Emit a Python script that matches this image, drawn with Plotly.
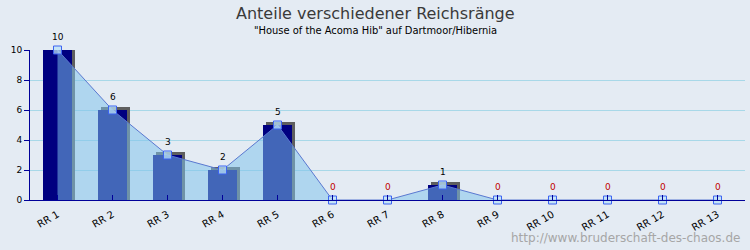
import plotly.graph_objects as go

categories = ["RR 1", "RR 2", "RR 3", "RR 4", "RR 5", "RR 6", "RR 7",
              "RR 8", "RR 9", "RR 10", "RR 11", "RR 12", "RR 13"]
values = [10, 6, 3, 2, 5, 0, 0, 1, 0, 0, 0, 0, 0]
y_ticks = [0, 2, 4, 6, 8, 10]

title = "Anteile verschiedener Reichsränge"
subtitle = "\"House of the Acoma Hib\" auf Dartmoor/Hibernia"
watermark = "http://www.bruderschaft-des-chaos.de"

BG = "#e4ebf3"
xs = list(range(len(categories)))

fig = go.Figure()

# shadow bars (3px right, 3px up)
shadow = [v + 0.2 if v > 0 else 0 for v in values]
fig.add_trace(go.Bar(x=xs, y=shadow, width=0.53, offset=-0.265 + 0.055,
                     marker=dict(color="#5e5e5e", line=dict(width=0)),
                     hoverinfo="skip", showlegend=False))
# main bars
fig.add_trace(go.Bar(x=xs, y=values, width=0.53, offset=-0.265,
                     marker=dict(color="#000080", line=dict(width=0)),
                     showlegend=False))
# area line
fig.add_trace(go.Scatter(x=xs, y=values, mode="lines+markers", fill="tozeroy",
                         fillcolor="rgba(127,196,236,0.52)", cliponaxis=False,
                         line=dict(color="#5a78d0", width=1),
                         marker=dict(symbol="square", size=8,
                                     color="rgba(185,225,248,0.75)",
                                     line=dict(color="#3d63f0", width=1)),
                         showlegend=False))

for x, v in zip(xs, values):
    fig.add_annotation(x=x, y=v, text=str(v), showarrow=False, yshift=13,
                       font=dict(family="DejaVu Sans", size=9,
                                 color="#000000" if v > 0 else "#c00000"))

px_x = lambda p: (p - 30) / 715
px_y = lambda p: (200 - p) / 150

fig.add_annotation(text=title, xref="paper", yref="paper", x=px_x(375), y=px_y(13),
                   xanchor="center", yanchor="middle", showarrow=False,
                   font=dict(family="DejaVu Sans", size=16, color="#3a3a3a"))
fig.add_annotation(text=subtitle, xref="paper", yref="paper", x=px_x(375), y=px_y(30),
                   xanchor="center", yanchor="middle", showarrow=False,
                   font=dict(family="DejaVu Sans Condensed", size=11, color="#000000"))
fig.add_annotation(text=watermark, xref="paper", yref="paper", x=px_x(742), y=px_y(238),
                   xanchor="right", yanchor="middle", showarrow=False,
                   font=dict(family="DejaVu Sans", size=12, color="#a6a6a6"))

fig.update_layout(
    width=750, height=250,
    margin=dict(l=30, r=5, t=50, b=50),
    paper_bgcolor=BG, plot_bgcolor=BG,
    barmode="overlay", bargap=0,
    xaxis=dict(range=[-0.5, len(categories) - 0.5], tickvals=xs, ticktext=categories,
               tickangle=-30, showgrid=False, zeroline=False,
               showline=True, linecolor="#000099", linewidth=1,
               ticks="inside", tickson="boundaries", ticklen=5, tickcolor="#000099",
               ticklabelstandoff=4,
               tickfont=dict(family="DejaVu Sans", size=10, color="#000000")),
    yaxis=dict(range=[0, 10], tickvals=y_ticks, showgrid=True, gridcolor="#a8d8e8",
               gridwidth=1, zeroline=False, showline=True, linecolor="#000099",
               linewidth=1, ticks="outside", ticklen=5, tickcolor="#000099",
               tickfont=dict(family="DejaVu Sans", size=9, color="#000000")),
)

fig.write_html("out.html")
